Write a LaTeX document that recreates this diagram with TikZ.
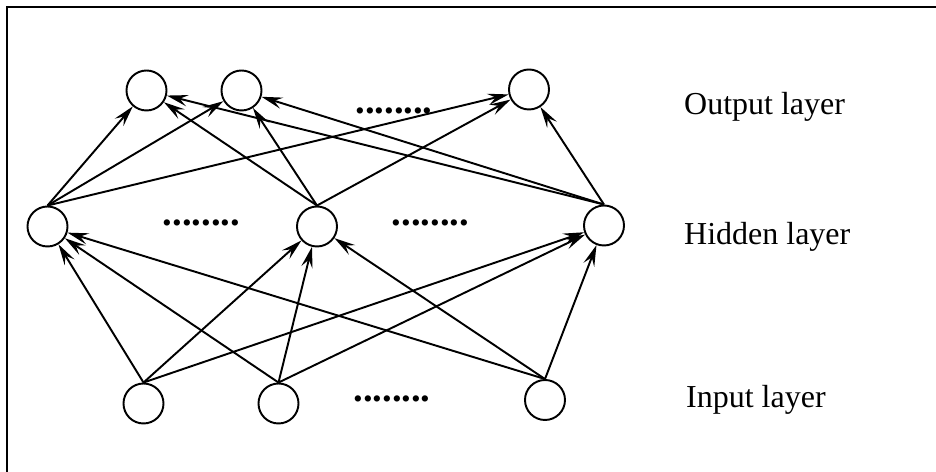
\documentclass[tikz,border=0pt]{standalone}
\usepackage{fontspec}
\setmainfont{Liberation Serif}
\usepackage{tikz}
\usetikzlibrary{arrows.meta,positioning}

\begin{document}
\begin{tikzpicture}[
    neuron/.style={circle, draw, line width=1.1pt, minimum size=0.8cm, inner sep=0pt},
    conn/.style={line width=1.1pt, -{Stealth[length=12pt,width=6.5pt,inset=4.5pt]}},
    layername/.style={anchor=base west, font=\fontsize{18.2}{20}\selectfont},
    dotrow/.style={anchor=base, inner sep=0pt, font=\fontsize{22}{24}\selectfont\bfseries}]
        \useasboundingbox (0,0) rectangle (18.72,9.44);
        % frame (top and left edge only)
        \draw[line width=1.3pt] (18.72,9.30) -- (0.14,9.30) -- (0.14,0);
        % output layer
        \node[neuron] (o1) at (2.93,7.63) {};
        \node[neuron] (o2) at (4.83,7.63) {};
        \node[neuron] (o3) at (10.58,7.65) {};
        % hidden layer
        \node[neuron] (h1) at (0.95,4.91) {};
        \node[neuron] (h2) at (6.34,4.91) {};
        \node[neuron] (h3) at (12.08,4.93) {};
        % input layer
        \node[neuron] (i1) at (2.87,1.37) {};
        \node[neuron] (i2) at (5.57,1.37) {};
        \node[neuron] (i3) at (10.90,1.44) {};
        % input -> hidden
        \draw[conn] (i1.north) -- (h1);
        \draw[conn] (i1.north) -- (h2);
        \draw[conn] (i1.north) -- (h3);
        \draw[conn] (i2.north) -- (h1);
        \draw[conn] (i2.north) -- (h2);
        \draw[conn] (i2.north) -- (h3);
        \draw[conn] (i3.north) -- (h1);
        \draw[conn] (i3.north) -- (h2);
        \draw[conn] (i3.north) -- (h3);
        % hidden -> output
        \draw[conn] (h1.north) -- (o1);
        \draw[conn] (h1.north) -- (o2);
        \draw[conn] (h1.north) -- (o3);
        \draw[conn] (h2.north) -- (o1);
        \draw[conn] (h2.north) -- (o2);
        \draw[conn] (h2.north) -- (o3);
        \draw[conn] (h3.north) -- (o1);
        \draw[conn] (h3.north) -- (o2);
        \draw[conn] (h3.north) -- (o3);
        % skipped neurons
        \node[dotrow] (odots) at (7.88,7.16) {........};
        \node[dotrow] (hdotsa) at (4.03,4.92) {........};
        \node[dotrow] (hdotsb) at (8.61,4.93) {........};
        \node[dotrow] (idots) at (7.84,1.40) {........};
        % layer names
        \node[layername] (lout) at (13.56,7.14) {Output layer};
        \node[layername] (lhid) at (13.56,4.54) {Hidden layer};
        \node[layername] (lin) at (13.60,1.28) {Input layer};
\end{tikzpicture}
\end{document}
